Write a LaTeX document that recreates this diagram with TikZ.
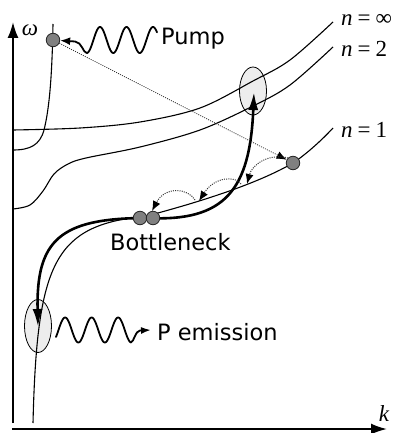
\documentclass[tikz,border=0pt]{standalone}
\usepackage{fontspec}
\newfontfamily\labfont{DejaVu Sans}
\newfontfamily\serfont{Liberation Serif}
\usetikzlibrary{arrows.meta,shapes.geometric}
\begin{document}
\begin{tikzpicture}[x=1pt,y=-1pt,
  axisline/.style={line width=2pt,-{Latex[length=16pt,width=11pt]}},
  curve/.style={line width=1.1pt},
  heavy/.style={line width=2.6pt},
  dotpt/.style={circle,fill=black!50,draw=black!85,line width=0.8pt,minimum size=13.5pt,inner sep=0pt},
  blob/.style={ellipse,draw,fill=black!7,line width=0.8pt,inner sep=0pt},
  wavy/.style={line width=1.8pt,line cap=round},
  dotted arrow/.style={line width=1pt,black!80,dash pattern=on 1pt off 1.2pt,-{Latex[length=10pt,width=8pt,black]}},
  lab/.style={font=\labfont\fontsize{22.5}{27}\selectfont,inner sep=0pt},
  mlab/.style={font=\serfont\fontsize{23}{27}\selectfont,inner sep=0pt}]
\useasboundingbox (0,0) rectangle (401,433);

% ellipses
\node[blob,minimum width=27pt,minimum height=48pt] (hiE) at (253,91) {};
\node[blob,minimum width=27pt,minimum height=53pt] (loE) at (38,326) {};

% axes
\coordinate (org) at (13,423);
\coordinate (ytop) at (13,22);
\coordinate (xorg) at (12,429);
\coordinate (xend) at (387,429);
\draw[axisline] (org) -- (ytop);
\draw[axisline] (xorg) -- (xend);
\node[mlab,anchor=base] (om) at (30,36) {\itshape ω};
\node[mlab,anchor=base] (kk) at (384,421) {\itshape k};

% dispersion curves
\draw[curve] (53,24) .. controls (52,80) and (49,110) .. (44,130) .. controls (40,145) and (30,150) .. (13,150);
\draw[curve] plot[smooth,tension=0.55] coordinates {(13,130) (80,128) (140,122) (200,108) (253,81) (290,60) (333,22)};
\draw[curve] plot[smooth,tension=0.55] coordinates {(13,209) (30,205) (43,191) (54,174) (68,164) (86,158) (140,147) (200,130) (253,106) (290,85) (333,47)};
\draw[curve] (33,423) .. controls (37,260) and (55,225) .. (147,216) .. controls (180,207) and (250,188) .. (293,163) .. controls (305,155) and (320,142) .. (333,128);

\node[mlab,anchor=base west] (ninf) at (341,26) {{\itshape n}\hspace{5pt}=\hspace{5pt}∞};
\node[mlab,anchor=base west] (ntwo) at (341,57) {{\itshape n}\hspace{5pt}=\hspace{5pt}2};
\node[mlab,anchor=base west] (none) at (341,137) {{\itshape n}\hspace{5pt}=\hspace{5pt}1};

% thick relaxation path
\coordinate (upc) at (254,92);
\coordinate (lowc) at (38,327);
\draw[heavy,{Latex[length=18pt,width=10pt]}-{Latex[length=18pt,width=10pt]}] (lowc) .. controls (36,240) and (60,218) .. (147,218) .. controls (225,222) and (250,190) .. (upc);

% dots
\node[dotpt] (pump) at (53,40) {};
\node[dotpt] (scat) at (293,163) {};
\node[dotpt] (bn1) at (140,218) {};
\node[dotpt] (bn2) at (153,218) {};

% dotted scattering
\coordinate (s1) at (247,184);
\coordinate (s2a) at (241,184);
\coordinate (s2) at (199,201);
\coordinate (s3a) at (195,200);
\coordinate (s3) at (152,211);
\draw[dotted arrow,line width=0.8pt] (pump) -- (scat);
\draw[dotted arrow] (scat.north west) .. controls (268,153) and (252,165) .. (s1);
\draw[dotted arrow] (s2a) .. controls (236,176) and (215,176) .. (s2);
\draw[dotted arrow] (s3a) .. controls (188,188) and (165,186) .. (s3);

% pump wave
\draw[wavy] plot[domain=86.8:157,samples=140,smooth] (\x,{40-13*sin(13.585*(\x-93.4))});
\draw[wavy,-{Latex[length=10pt,width=8pt]}] (86.8,53) .. controls (83,53) and (82,42) .. (75,41.5) -- (pump);
\node[lab,anchor=base west] (pumptxt) at (161,45) {Pump};

% emission wave
\coordinate (emtip) at (151,330);
\draw[wavy] plot[domain=56:131,samples=140,smooth] (\x,{330-12.5*sin(13.585*(\x-58.5))});
\draw[wavy,-{Latex[length=10pt,width=7pt]}] (131,342.4) .. controls (134,342) and (135,331) .. (140,330.5) -- (emtip);
\node[lab,anchor=base west] (pemtxt) at (157,340) {P emission};

\node[lab,anchor=base west] (bntxt) at (110,250) {Bottleneck};
\end{tikzpicture}
\end{document}
